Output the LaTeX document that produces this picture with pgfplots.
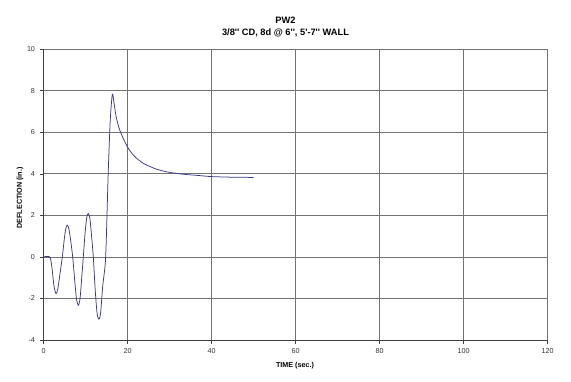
\documentclass[border=0pt]{standalone}
\usepackage{pgfplots}
\pgfplotsset{compat=1.18}
\usepackage{fontspec}
\setmainfont{Liberation Sans}
\definecolor{curve}{rgb}{0.22,0.22,0.55}
\newcommand{\sq}{\textquotesingle}
\begin{document}
\begin{tikzpicture}[x=1bp,y=1bp]
\begin{axis}[
  at={(0,0)}, anchor=south west,
  scale only axis, width=504bp, height=290.7bp,
  xmin=0, xmax=120, ymin=-4, ymax=10,
  xtick={0,20,...,120}, ytick={-4,-2,...,10},
  axis x line*=bottom, axis y line*=left,
  axis line style={black!75, line width=0.8bp, -},
  tick align=outside, major tick length=3.5bp,
  tick style={black!75, line width=0.7bp},
  grid=major, major grid style={black!55, line width=0.8bp},
  ticklabel style={font=\fontsize{7.2}{8}\selectfont, text=black!80},
  /pgf/number format/assume math mode=true,
  xticklabel style={yshift=-1.5bp},
  yticklabel style={xshift=-1.5bp},
  clip=false,
]
\addplot[curve, line width=0.75bp, smooth, tension=0.45] coordinates {
(0,0) (1.5,0) (2.0,-0.5) (2.5,-1.4) (2.98,-1.77) (3.4,-1.55) (3.9,-0.85)
(4.48,0) (5.0,0.95) (5.35,1.4) (5.67,1.53) (6.05,1.35) (6.5,0.75)
(6.95,0) (7.4,-1.05) (7.85,-2.0) (8.29,-2.33) (8.7,-2.0) (9.1,-1.0)
(9.48,0) (9.9,1.15) (10.3,1.9) (10.67,2.09) (11.05,1.85) (11.45,1.0)
(11.86,0) (12.3,-1.55) (12.75,-2.7) (13.2,-3.0) (13.6,-2.7) (14.1,-1.4)
(14.8,0) (15.4,4.0) (15.9,6.6) (16.4,7.84) (16.8,7.4) (17.3,6.75)
(18,6.2) (19,5.7) (20,5.3) (21,5.0) (22,4.78) (23,4.62) (24,4.48)
(25.4,4.35) (27,4.22) (29.3,4.1) (31.7,4.02) (34,3.97) (37,3.92)
(40,3.87) (45,3.84) (50,3.83)
};
\end{axis}
\node[font=\fontsize{9.3}{11}\selectfont\bfseries, anchor=center] at (242,319.3) {PW2};
\node[font=\fontsize{9.3}{11}\selectfont\bfseries, anchor=center] at (242,306.7) {3/8\sq\sq{} CD, 8d @ 6\sq\sq, 5\sq-7\sq\sq{} WALL};
\node[font=\fontsize{7.2}{8}\selectfont\bfseries, rotate=90, anchor=center] at (-23.5,142) {DEFLECTION (in.)};
\node[font=\fontsize{7.2}{8}\selectfont\bfseries, anchor=center] at (251.5,-25.7) {TIME (sec.)};
\pgfresetboundingbox
\path[use as bounding box] (-43.5,-41) rectangle (527.5,340);
\end{tikzpicture}
\end{document}
